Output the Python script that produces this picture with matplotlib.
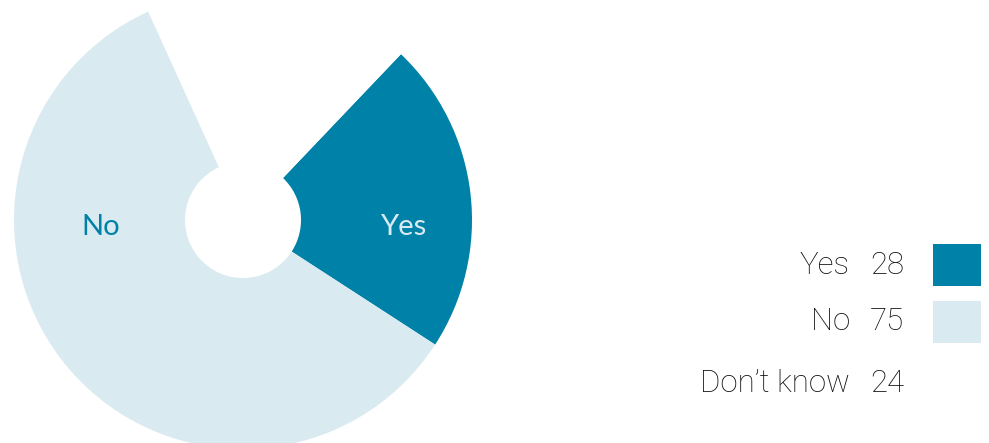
import matplotlib
matplotlib.use("Agg")
import matplotlib.pyplot as plt
from matplotlib.patches import Rectangle

categories = ["Yes", "No", "Don\u2019t know"]
values = [28, 75, 24]
colors = ["#0081a7", "#d9ebf1", "#ffffff"]
label_colors = ["#d9ebf1", "#0081a7", None]

W, H = 989, 443
fig = plt.figure(figsize=(W / 100, H / 100), dpi=100)
ax = fig.add_axes([0, 0, 1, 1])

cx, cy, R = 243, H - 220, 229
hole = 58
wedges, _ = ax.pie(values, colors=colors, startangle=46.4, counterclock=False,
                   center=(cx, cy), radius=R, frame=True,
                   wedgeprops=dict(width=R - hole, linewidth=0))
ax.set_xlim(0, W)
ax.set_ylim(0, H)
ax.axis("off")

font = dict(family=["Lato", "DejaVu Sans"])
legend_font = dict(family=["Roboto", "DejaVu Sans"])
# slice labels sit on the horizontal through the centre
label_offsets = [160, -142, None]
for lab, lc, dx in zip(categories, label_colors, label_offsets):
    if lc is None:
        continue
    ax.text(cx + dx, cy - 7, lab, ha="center", va="center", color=lc,
            fontsize=21, **font)

# legend on the right
row_y = [H - 265, H - 322, H - 383]
for y, lab, v, c in zip(row_y, categories, values, colors):
    ax.text(850, y, lab, ha="right", va="center", fontsize=22.5,
            color="#111111", fontweight="light", **legend_font)
    ax.text(904, y, str(v), ha="right", va="center", fontsize=22.5,
            color="#111111", fontweight="light", **legend_font)
    ax.add_patch(Rectangle((933, y - 21), 48, 42, facecolor=c, linewidth=0))

fig.savefig("out.png", dpi=100)
